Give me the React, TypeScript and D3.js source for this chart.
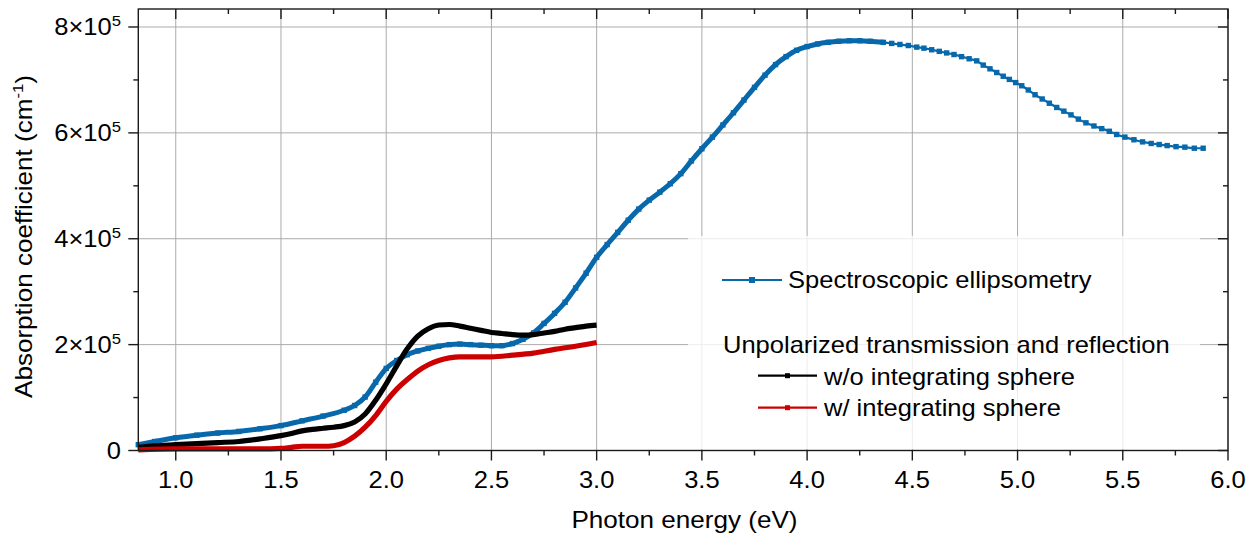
import React from "react";
import * as d3 from "d3";

// Spectroscopic ellipsometry (photon energy eV, absorption coefficient in 1e5 cm^-1)
const seEnergy = [
  0.822, 0.9, 1.0, 1.1, 1.2, 1.3, 1.4, 1.5, 1.6, 1.7, 1.8, 1.85, 1.9, 1.95, 2.0, 2.05, 2.1, 2.15, 2.2, 2.25,
  2.3, 2.35, 2.4, 2.45, 2.5, 2.55, 2.6, 2.65, 2.7, 2.75, 2.8, 2.85, 2.9, 2.95, 3.0, 3.05, 3.1, 3.15, 3.2, 3.25,
  3.3, 3.35, 3.4, 3.45, 3.5, 3.55, 3.6, 3.65, 3.7, 3.75, 3.8, 3.85, 3.9, 3.95, 4.0, 4.05, 4.1, 4.15, 4.2, 4.25, 4.3,
  4.362, 4.402, 4.441, 4.481, 4.521, 4.555, 4.592, 4.628, 4.663, 4.698, 4.734, 4.77, 4.806, 4.837, 4.869,
  4.901, 4.932, 4.961, 4.991, 5.02, 5.051, 5.083, 5.117, 5.151, 5.186, 5.22, 5.254, 5.289, 5.325, 5.363,
  5.4, 5.436, 5.471, 5.51, 5.553, 5.594, 5.635, 5.673, 5.711, 5.753, 5.795, 5.84, 5.882,
];
const seAlpha = [
  0.11, 0.17, 0.24, 0.29, 0.33, 0.36, 0.41, 0.47, 0.56, 0.65, 0.76, 0.85, 1.01, 1.29, 1.55, 1.7, 1.81, 1.88, 1.93, 1.97,
  2.0, 2.01, 2.0, 1.99, 1.98, 1.98, 2.02, 2.1, 2.22, 2.4, 2.59, 2.8, 3.07, 3.35, 3.65, 3.89, 4.12, 4.35, 4.56, 4.73,
  4.88, 5.04, 5.23, 5.47, 5.7, 5.92, 6.15, 6.38, 6.62, 6.86, 7.09, 7.29, 7.44, 7.56, 7.63, 7.68, 7.71, 7.73, 7.74, 7.74, 7.73,
  7.71, 7.69, 7.67, 7.65, 7.62, 7.6, 7.57, 7.54, 7.51, 7.48, 7.44, 7.4, 7.36, 7.28, 7.21,
  7.14, 7.07, 7.01, 6.95, 6.89, 6.81, 6.72, 6.64, 6.56, 6.48, 6.41, 6.34, 6.26, 6.19, 6.13,
  6.08, 6.03, 5.97, 5.92, 5.87, 5.83, 5.8, 5.78, 5.76, 5.74, 5.73, 5.71, 5.71,
];

// Unpolarized T&R without integrating sphere
const woEnergy = [
  0.822, 0.9, 1.0, 1.1, 1.2, 1.3, 1.4, 1.5, 1.55, 1.6, 1.65, 1.7, 1.75, 1.8, 1.85, 1.9, 1.95, 2.0, 2.05, 2.1,
  2.15, 2.2, 2.25, 2.3, 2.35, 2.4, 2.45, 2.5, 2.55, 2.6, 2.65, 2.7, 2.75, 2.8, 2.85, 2.9, 2.95, 3.0,
];
const woAlpha = [
  0.06, 0.09, 0.11, 0.13, 0.15, 0.17, 0.22, 0.28, 0.32, 0.37, 0.4, 0.42, 0.44, 0.47, 0.54, 0.69, 0.95, 1.26, 1.6, 1.92,
  2.16, 2.3, 2.37, 2.38, 2.35, 2.31, 2.27, 2.23, 2.21, 2.19, 2.18, 2.19, 2.22, 2.25, 2.29, 2.32, 2.35, 2.37,
];

// Unpolarized T&R with integrating sphere
const wEnergy = [
  0.822, 1.0, 1.2, 1.4, 1.5, 1.55, 1.6, 1.7, 1.75, 1.8, 1.85, 1.9, 1.95, 2.0, 2.05, 2.1, 2.15, 2.2, 2.25, 2.3,
  2.35, 2.4, 2.5, 2.6, 2.7, 2.8, 2.9, 3.0,
];
const wAlpha = [
  0.01, 0.03, 0.03, 0.03, 0.04, 0.06, 0.08, 0.08, 0.09, 0.15, 0.27, 0.44, 0.66, 0.93, 1.16, 1.34, 1.5, 1.62, 1.7, 1.75,
  1.77, 1.77, 1.77, 1.8, 1.84, 1.91, 1.97, 2.04,
];

const xMajorTicks = [1.0, 1.5, 2.0, 2.5, 3.0, 3.5, 4.0, 4.5, 5.0, 5.5, 6.0];
const xMinorTicks = [1.25, 1.75, 2.25, 2.75, 3.25, 3.75, 4.25, 4.75, 5.25, 5.75];
const yMajorTicks = [0, 2, 4, 6, 8];
const yMinorTicks = [1, 3, 5, 7];

const BLUE = "#0868ac";
const RED = "#cc0000";
const BLACK = "#000000";
const FONT = "'Liberation Sans', Arial, sans-serif";
const SX = 1.11;

const W = 1256;
const H = 535;
const L = 138.3, R = 1228, T = 9, B = 450.5;

const xs = d3.scaleLinear().domain([0.822, 6.0]).range([L, R]);
const ys = d3.scaleLinear().domain([0, 8.34]).range([B, T]);

type P = [number, number];
const zip = (a: number[], b: number[]): P[] => a.map((v, i) => [v, b[i]]);
const line = d3
  .line<P>()
  .x((d) => xs(d[0]))
  .y((d) => ys(d[1]))
  .curve(d3.curveMonotoneX);

const Txt = ({ x, y, anchor = "start", size = 23, rotate = 0, children }: any) => (
  <g transform={`translate(${x},${y}) rotate(${rotate}) scale(${SX},1)`}>
    <text textAnchor={anchor} fontSize={size} fontFamily={FONT} fill="#000">
      {children}
    </text>
  </g>
);

export default function App() {
  const se = zip(seEnergy, seAlpha);
  const seThick = se.filter((d) => d[0] <= 4.38);
  const seThin = se.filter((d) => d[0] >= 4.3);
  const wo = zip(woEnergy, woAlpha);
  const w = zip(wEnergy, wAlpha);

  return (
    <svg
      width={W}
      height={H}
      style={{ position: "absolute", left: 0, top: 0, background: "#fff" }}
    >
      <rect x={0} y={0} width={W} height={H} fill="#fff" />
      {/* grid */}
      <g stroke="#ababab" strokeWidth={1}>
        {xMajorTicks.map((t) => (
          <line key={"gx" + t} x1={xs(t)} x2={xs(t)} y1={T} y2={B} />
        ))}
        {yMajorTicks.map((t) => (
          <line key={"gy" + t} x1={L} x2={R} y1={ys(t)} y2={ys(t)} />
        ))}
      </g>
      {/* legend background */}
      <rect x={688} y={236} width={512} height={213} fill="#fff" fillOpacity={0.78} />

      {/* curves */}
      <path d={line(seThick) || ""} fill="none" stroke={BLUE} strokeWidth={5} />
      <path d={line(seThin) || ""} fill="none" stroke={BLUE} strokeWidth={2.2} />
      <g fill={BLUE}>
        {se.map((d, i) => (
          <rect key={"m" + i} x={xs(d[0]) - 2.7} y={ys(d[1]) - 2.7} width={5.4} height={5.4} />
        ))}
      </g>
      <path d={line(wo) || ""} fill="none" stroke={BLACK} strokeWidth={5.2} />
      <path d={line(w) || ""} fill="none" stroke={RED} strokeWidth={5.2} />

      {/* frame */}
      <rect x={L} y={T} width={R - L} height={B - T} fill="none" stroke="#1a1a1a" strokeWidth={1.4} />
      <g stroke="#1a1a1a" strokeWidth={1.4}>
        {xMajorTicks.map((t) => (
          <g key={"tx" + t}>
            <line x1={xs(t)} x2={xs(t)} y1={B} y2={B + 10} />
            <line x1={xs(t)} x2={xs(t)} y1={T} y2={T + 10} />
          </g>
        ))}
        {xMinorTicks.map((t) => (
          <g key={"mx" + t}>
            <line x1={xs(t)} x2={xs(t)} y1={B} y2={B + 5} />
            <line x1={xs(t)} x2={xs(t)} y1={T} y2={T + 5} />
          </g>
        ))}
        {yMajorTicks.map((t) => (
          <g key={"ty" + t}>
            <line x1={L - 10} x2={L} y1={ys(t)} y2={ys(t)} />
            <line x1={R - 10} x2={R} y1={ys(t)} y2={ys(t)} />
          </g>
        ))}
        {yMinorTicks.map((t) => (
          <g key={"my" + t}>
            <line x1={L - 5} x2={L} y1={ys(t)} y2={ys(t)} />
            <line x1={R - 5} x2={R} y1={ys(t)} y2={ys(t)} />
          </g>
        ))}
      </g>

      {/* tick labels */}
      {xMajorTicks.map((t) => (
        <Txt key={"lx" + t} x={xs(t)} y={488} anchor="middle">
          {t.toFixed(1)}
        </Txt>
      ))}
      {yMajorTicks.map((t) => (
        <Txt key={"ly" + t} x={121} y={ys(t) + 8} anchor="end">
          {t === 0 ? (
            "0"
          ) : (
            <>
              <tspan>{`${t}×10`}</tspan>
              <tspan fontSize={15} dy={-9}>
                5
              </tspan>
            </>
          )}
        </Txt>
      ))}

      {/* axis titles */}
      <Txt x={684.5} y={528} anchor="middle" size={23.5}>
        Photon energy (eV)
      </Txt>
      <Txt x={32} y={236.5} anchor="middle" size={23.5} rotate={-90}>
        <tspan>Absorption coefficient (cm</tspan>
        <tspan fontSize={15} dy={-9}>
          -1
        </tspan>
        <tspan dy={9}>)</tspan>
      </Txt>

      {/* legend */}
      <line x1={722} x2={782} y1={280} y2={280} stroke={BLUE} strokeWidth={2.2} />
      <rect x={752 - 3} y={280 - 3} width={6} height={6} fill={BLUE} />
      <Txt x={788} y={288.3}>Spectroscopic ellipsometry</Txt>
      <Txt x={723} y={353.3}>Unpolarized transmission and reflection</Txt>
      <line x1={758} x2={817} y1={375.7} y2={375.7} stroke={BLACK} strokeWidth={2.2} />
      <rect x={787.5 - 2.5} y={375.7 - 2.5} width={5} height={5} fill={BLACK} />
      <Txt x={824} y={385}>w/o integrating sphere</Txt>
      <line x1={758} x2={817} y1={407.7} y2={407.7} stroke={RED} strokeWidth={2.2} />
      <rect x={787.5 - 2.5} y={407.7 - 2.5} width={5} height={5} fill={RED} />
      <Txt x={824} y={416}>w/ integrating sphere</Txt>
    </svg>
  );
}
